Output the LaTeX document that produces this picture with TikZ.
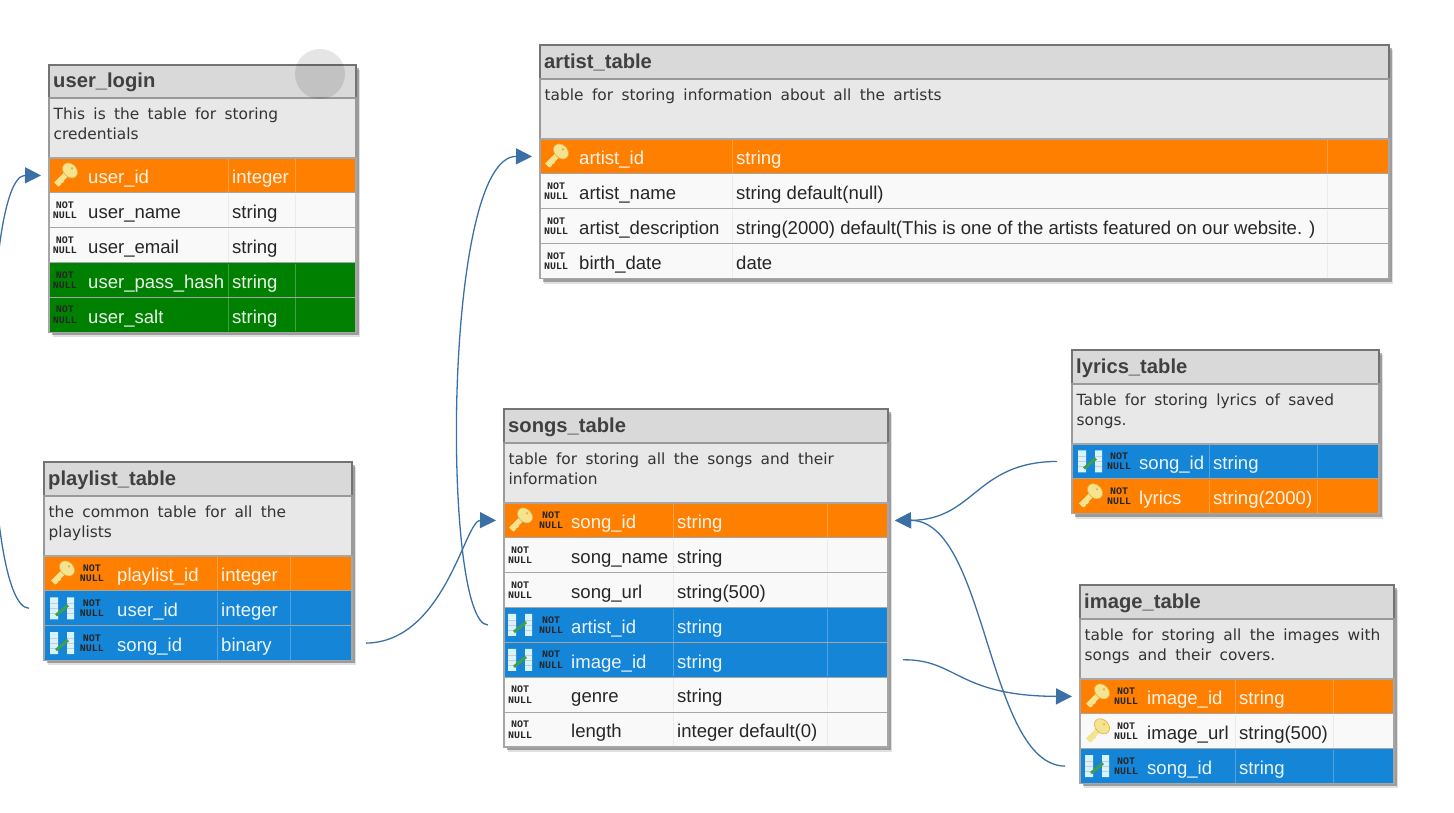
\documentclass[tikz,border=0pt]{standalone}
\usepackage{fontspec}
\setmainfont{Liberation Sans}
\newfontfamily\descfont[WordSpace=1.7]{DejaVu Sans}
\newfontfamily\tagfont{Liberation Mono}
\usetikzlibrary{positioning,shadows,arrows.meta}
\definecolor{roworange}{HTML}{FF8000}
\definecolor{rowblue}{HTML}{1585D8}
\definecolor{rowgreen}{HTML}{008000}
\definecolor{rowwhite}{HTML}{F9F9F9}
\definecolor{linkblue}{HTML}{3A70A6}
\definecolor{keyfill}{HTML}{F5E38F}
\definecolor{keyedge}{HTML}{E0B040}
\definecolor{fkgreen}{HTML}{3F9F4F}
\begin{document}
\begin{tikzpicture}[x=1pt,y=-1pt,
 tblframe/.style={tablew,anchor=north west,fill=white,outer sep=0pt,
  drop shadow={shadow xshift=4pt,shadow yshift=-5pt,opacity=.12,fill=black},
  drop shadow={shadow xshift=2.5pt,shadow yshift=-3pt,opacity=.3,fill=black}},
 hdr/.style={tablew,anchor=north west,minimum height=34,outer sep=0pt,fill=black!15,
  draw=black!55,line width=2},
 descbox/.style={tablew,minimum height=60,outer sep=0pt,fill=black!9,draw=black!40,line width=1.3},
 basicrow/.style={tablew,minimum height=34.85,outer sep=0pt,draw=black!35,line width=1.2},
 rowo/.style={basicrow,fill=roworange},
 rowb/.style={basicrow,fill=rowblue},
 rowg/.style={basicrow,fill=rowgreen},
 roww/.style={basicrow,fill=rowwhite},
 hdrtxt/.style={anchor=west,inner sep=0pt,text=black!75,font=\fontsize{20.2}{24}\selectfont\bfseries,
  text height=17,text depth=4},
 desctxt/.style={anchor=north west,inner sep=0pt,align=left,text=black!80,
  font=\fontsize{15.4}{20}\selectfont\descfont},
 fldlt/.style={anchor=west,inner sep=0pt,text=white,text opacity=.92,
  font=\fontsize{18.55}{22}\selectfont,text height=19,text depth=2.5},
 flddk/.style={fldlt,text=black!85,text opacity=1},
 divlt/.style={draw=white,draw opacity=.25,line width=1},
 divdk/.style={draw=black!8,line width=1},
 nulltag/.style={inner sep=0pt,align=center,text=black!85,
  font=\fontsize{10}{10.5}\selectfont\tagfont\bfseries},
 link/.style={draw=linkblue,line width=1.3,-{Triangle[length=16pt,width=16pt]}},
 keyicon/.pic={
  \draw[keyfill,line width=5.5] (2,-2)--(-9,9);
  \draw[keyfill,line width=3.2] (-9,6)--(-5,10) (-6,3)--(-2,7);
  \fill[keyfill,rotate around={-45:(5,-5)}] (5,-5) ellipse (8.5 and 6.5);
  \draw[keyedge,line width=.6,rotate around={-45:(5,-5)}] (5,-5) ellipse (8.5 and 6.5);
  \fill[keyedge] (7,-7) circle (1.2);},
 fkicon/.pic={
  \fill[white!85!cyan] (-12,-11) rectangle (-4,11) (5,-11) rectangle (12,11);
  \draw[black!20,line width=.6] (-12,-5)--(-4,-5) (-12,0)--(-4,0) (-12,5)--(-4,5)
   (5,-5)--(12,-5) (5,0)--(12,0) (5,5)--(12,5);
  \draw[fkgreen,line width=3] (-6,7)--(6,-3);}]
 \useasboundingbox (0,0) rectangle (1454,813);
 \clip (0,0) rectangle (1454,813);
 % user_login
 \begin{scope}[tablew/.style={minimum width=307}]
 \def\fx{39}\def\tx{144}\def\dxa{179}\def\dxb{246}
 \node[tblframe,minimum height=267] (ul) at (49,65) {};
 \node[hdr,minimum height=33] (u0) at (ul.north west) {};
 \node[descbox,below=0pt of u0] (ud) {};
 \path (u0.west) ++(4,0) node[hdrtxt] (u0t) {user\_login}
  (ud.north west) ++(4.5,10) node[desctxt] (udt) {This is the table for storing\\credentials};
 \foreach \rw/\pr/\sty/\col/\fld/\typ in {
  u1/ud/rowo/lt/user\_id/integer,
  u2/u1/roww/dk/user\_name/string,
  u3/u2/roww/dk/user\_email/string,
  u4/u3/rowg/lt/user\_pass\_hash/string,
  u5/u4/rowg/lt/user\_salt/string}{
  \node[\sty,below=0pt of \pr] (\rw) {};
  \path (\rw.west) ++(\fx,0) node[fld\col] (\rw-f) {\fld}
   ++(\tx,0) node[fld\col] (\rw-t) {\typ};
  \draw[div\col] (\rw.north west) ++(\dxa,1) -- ++(0,33);
  \draw[div\col] (\rw.north west) ++(\dxb,1) -- ++(0,33);
 }
 \path (u1.west) ++(16,0) pic {keyicon}
  (u2.west) ++(16,0) node[nulltag] (u2n) {NOT\\NULL}
  (u3.west) ++(16,0) node[nulltag] (u3n) {NOT\\NULL}
  (u4.west) ++(16,0) node[nulltag] (u4n) {NOT\\NULL}
  (u5.west) ++(16,0) node[nulltag] (u5n) {NOT\\NULL};
 \end{scope}
 % playlist_table
 \begin{scope}[tablew/.style={minimum width=308}]
 \def\fx{73}\def\tx{104}\def\dxa{173}\def\dxb{246}
 \node[tblframe,minimum height=198] (pl) at (44,462) {};
 \node[hdr] (p0) at (pl.north west) {};
 \node[descbox,below=0pt of p0] (pd) {};
 \path (p0.west) ++(4,0) node[hdrtxt] (p0t) {playlist\_table}
  (pd.north west) ++(4.5,10) node[desctxt] (pdt) {the common table for all the\\playlists};
 \foreach \rw/\pr/\sty/\col/\fld/\typ in {
  p1/pd/rowo/lt/playlist\_id/integer,
  p2/p1/rowb/lt/user\_id/integer,
  p3/p2/rowb/lt/song\_id/binary}{
  \node[\sty,below=0pt of \pr] (\rw) {};
  \path (\rw.west) ++(\fx,0) node[fld\col] (\rw-f) {\fld}
   ++(\tx,0) node[fld\col] (\rw-t) {\typ};
  \draw[div\col] (\rw.north west) ++(\dxa,1) -- ++(0,33);
  \draw[div\col] (\rw.north west) ++(\dxb,1) -- ++(0,33);
 }
 \path (p1.west) ++(18,0) pic {keyicon} ++(30,0) node[nulltag] (p1n) {NOT\\NULL}
  (p2.west) ++(18,0) pic {fkicon} ++(30,0) node[nulltag] (p2n) {NOT\\NULL}
  (p3.west) ++(18,0) pic {fkicon} ++(30,0) node[nulltag] (p3n) {NOT\\NULL};
 \end{scope}
 % songs_table
 \begin{scope}[tablew/.style={minimum width=384}]
 \def\fx{67}\def\tx{106}\def\dxa{169}\def\dxb{323}
 \node[tblframe,minimum height=338] (so) at (504,409) {};
 \node[hdr] (s0) at (so.north west) {};
 \node[descbox,below=0pt of s0] (sd) {};
 \path (s0.west) ++(4,0) node[hdrtxt] (s0t) {songs\_table}
  (sd.north west) ++(4.5,10) node[desctxt] (sdt) {table for storing all the songs and their\\information};
 \foreach \rw/\pr/\sty/\col/\fld/\typ in {
  s1/sd/rowo/lt/song\_id/string,
  s2/s1/roww/dk/song\_name/string,
  s3/s2/roww/dk/song\_url/string(500),
  s4/s3/rowb/lt/artist\_id/string,
  s5/s4/rowb/lt/image\_id/string,
  s6/s5/roww/dk/genre/string,
  s7/s6/roww/dk/length/integer default(0)}{
  \node[\sty,below=0pt of \pr] (\rw) {};
  \path (\rw.west) ++(\fx,0) node[fld\col] (\rw-f) {\fld}
   ++(\tx,0) node[fld\col] (\rw-t) {\typ};
  \draw[div\col] (\rw.north west) ++(\dxa,1) -- ++(0,33);
  \draw[div\col] (\rw.north west) ++(\dxb,1) -- ++(0,33);
 }
 \path (s1.west) ++(16,0) pic {keyicon} ++(31,0) node[nulltag] (s1n) {NOT\\NULL}
  (s2.west) ++(16,0) node[nulltag] (s2n) {NOT\\NULL}
  (s3.west) ++(16,0) node[nulltag] (s3n) {NOT\\NULL}
  (s4.west) ++(16,0) pic {fkicon} ++(31,0) node[nulltag] (s4n) {NOT\\NULL}
  (s5.west) ++(16,0) pic {fkicon} ++(31,0) node[nulltag] (s5n) {NOT\\NULL}
  (s6.west) ++(16,0) node[nulltag] (s6n) {NOT\\NULL}
  (s7.west) ++(16,0) node[nulltag] (s7n) {NOT\\NULL};
 \end{scope}
 % artist_table
 \begin{scope}[tablew/.style={minimum width=849}]
 \def\fx{39}\def\tx{157}\def\dxa{192}\def\dxb{787}
 \node[tblframe,minimum height=234] (ar) at (540,45) {};
 \node[hdr] (a0) at (ar.north west) {};
 \node[descbox,below=0pt of a0] (ad) {};
 \path (a0.west) ++(4,0) node[hdrtxt] (a0t) {artist\_table}
  (ad.north west) ++(4.5,10) node[desctxt] (adt) {table for storing information about all the artists};
 \foreach \rw/\pr/\sty/\col/\fld/\typ in {
  a1/ad/rowo/lt/artist\_id/string,
  a2/a1/roww/dk/artist\_name/string default(null),
  a3/a2/roww/dk/artist\_description/string(2000) default(This is one of the artists featured on our website. ),
  a4/a3/roww/dk/birth\_date/date}{
  \node[\sty,below=0pt of \pr] (\rw) {};
  \path (\rw.west) ++(\fx,0) node[fld\col] (\rw-f) {\fld}
   ++(\tx,0) node[fld\col] (\rw-t) {\typ};
  \draw[div\col] (\rw.north west) ++(\dxa,1) -- ++(0,33);
  \draw[div\col] (\rw.north west) ++(\dxb,1) -- ++(0,33);
 }
 \path (a1.west) ++(16,0) pic {keyicon}
  (a2.west) ++(16,0) node[nulltag] (a2n) {NOT\\NULL}
  (a3.west) ++(16,0) node[nulltag] (a3n) {NOT\\NULL}
  (a4.west) ++(16,0) node[nulltag] (a4n) {NOT\\NULL};
 \end{scope}
 % lyrics_table
 \begin{scope}[tablew/.style={minimum width=307}]
 \def\fx{67}\def\tx{74}\def\dxa{137}\def\dxb{245}
 \node[tblframe,minimum height=164] (ly) at (1072,350) {};
 \node[hdr] (l0) at (ly.north west) {};
 \node[descbox,below=0pt of l0] (ld) {};
 \path (l0.west) ++(4,0) node[hdrtxt] (l0t) {lyrics\_table}
  (ld.north west) ++(4.5,10) node[desctxt] (ldt) {Table for storing lyrics of saved\\songs.};
 \foreach \rw/\pr/\sty/\col/\fld/\typ in {
  l1/ld/rowb/lt/song\_id/string,
  l2/l1/rowo/lt/lyrics/string(2000)}{
  \node[\sty,below=0pt of \pr] (\rw) {};
  \path (\rw.west) ++(\fx,0) node[fld\col] (\rw-f) {\fld}
   ++(\tx,0) node[fld\col] (\rw-t) {\typ};
  \draw[div\col] (\rw.north west) ++(\dxa,1) -- ++(0,33);
  \draw[div\col] (\rw.north west) ++(\dxb,1) -- ++(0,33);
 }
 \path (l1.west) ++(18,0) pic {fkicon} ++(29,0) node[nulltag] (l1n) {NOT\\NULL}
  (l2.west) ++(18,0) pic {keyicon} ++(29,0) node[nulltag] (l2n) {NOT\\NULL};
 \end{scope}
 % image_table
 \begin{scope}[tablew/.style={minimum width=314}]
 \def\fx{67}\def\tx{92}\def\dxa{155}\def\dxb{253}
 \node[tblframe,minimum height=198] (im) at (1080,585) {};
 \node[hdr] (i0) at (im.north west) {};
 \node[descbox,below=0pt of i0] (id) {};
 \path (i0.west) ++(4,0) node[hdrtxt] (i0t) {image\_table}
  (id.north west) ++(4.5,10) node[desctxt] (idt) {table for storing all the images with\\songs and their covers.};
 \foreach \rw/\pr/\sty/\col/\fld/\typ in {
  i1/id/rowo/lt/image\_id/string,
  i2/i1/roww/dk/image\_url/string(500),
  i3/i2/rowb/lt/song\_id/string}{
  \node[\sty,below=0pt of \pr] (\rw) {};
  \path (\rw.west) ++(\fx,0) node[fld\col] (\rw-f) {\fld}
   ++(\tx,0) node[fld\col] (\rw-t) {\typ};
  \draw[div\col] (\rw.north west) ++(\dxa,1) -- ++(0,33);
  \draw[div\col] (\rw.north west) ++(\dxb,1) -- ++(0,33);
 }
 \path (i1.west) ++(17,0) pic {keyicon} ++(29,0) node[nulltag] (i1n) {NOT\\NULL}
  (i2.west) ++(17,0) pic {keyicon} ++(29,0) node[nulltag] (i2n) {NOT\\NULL}
  (i3.west) ++(17,0) pic {fkicon} ++(29,0) node[nulltag] (i3n) {NOT\\NULL};
 \end{scope}
 % grey spot on user_login
 \node[circle,minimum size=50,inner sep=0pt,fill=black,fill opacity=.1] (spot) at (320,74) {};
 % connectors
 \draw[link] ([xshift=-15]p2.west) .. controls (-20,607) and (-20,175) .. ([xshift=-8]u1.west);
 \draw[link] ([xshift=14]p3.east) .. controls (445,642) and (465,520) .. ([xshift=-8]s1.west);
 \draw[link] ([xshift=-16]s4.west) .. controls (442,625) and (442,156) .. ([xshift=-8]a1.west);
 \draw[link] ([xshift=-15]l1.west) .. controls (975,462) and (975,520) .. ([xshift=7]s1.east);
 \draw[link] ([xshift=-15]i3.west) .. controls (987,765) and (987,520) .. ([xshift=7]s1.east);
 \draw[link] ([xshift=15]s5.east) .. controls (957,659) and (957,696) .. ([xshift=-8]i1.west);
\end{tikzpicture}
\end{document}
